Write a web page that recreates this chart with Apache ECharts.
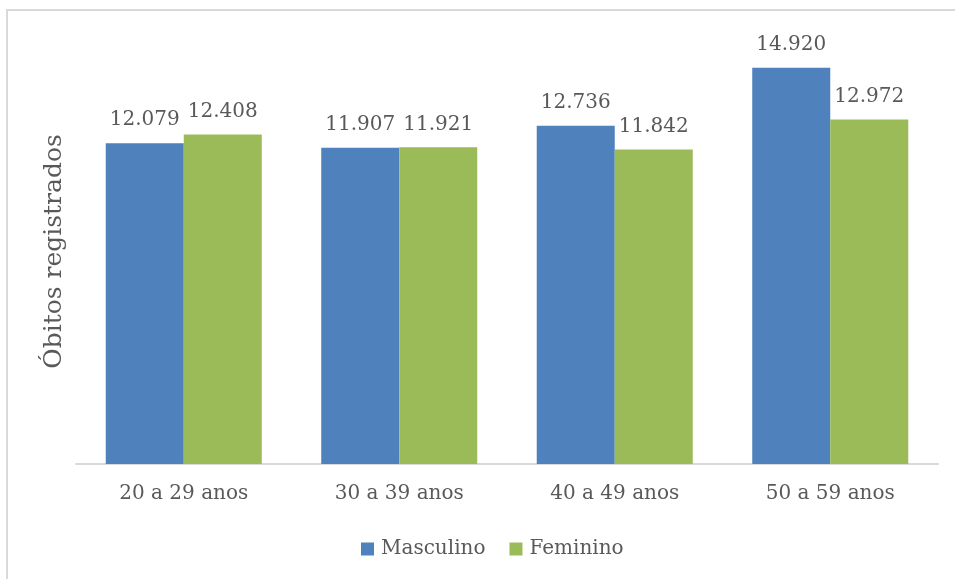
<!DOCTYPE html>
<html>
<head>
<meta charset="utf-8">
<script src="https://cdn.jsdelivr.net/npm/echarts@6/dist/echarts.min.js"></script>
<style>html,body{margin:0;padding:0;background:#fff}#c{width:955px;height:579px}</style>
</head>
<body>
<div id="c"></div>
<script>
var categories = ['20 a 29 anos', '30 a 39 anos', '40 a 49 anos', '50 a 59 anos'];
var masculino = [12079, 11907, 12736, 14920];
var feminino = [12408, 11921, 11842, 12972];
var seriesNames = ['Masculino', 'Feminino'];
var yTitle = 'Óbitos registrados';

var FONT = '"DejaVu Serif", serif';
var TXT = '#595959';
function fmt(v) { return String(v).replace(/\B(?=(\d{3})+(?!\d))/g, '.'); }

var chart = echarts.init(document.getElementById('c'));
var labelCfg = {
  show: true, position: 'top', distance: 13,
  color: TXT, fontFamily: FONT, fontSize: 20,
  formatter: function (p) { return fmt(p.value); }
};
chart.setOption({
  animation: false,
  graphic: [{
    type: 'rect', silent: true, z: -1,
    shape: { x: 7, y: 10, width: 1000, height: 700 },
    style: { fill: 'none', stroke: '#d9d9d9', lineWidth: 2 }
  }],
  grid: { left: 76, right: 17, top: 39, bottom: 115 },
  legend: {
    bottom: 15, left: 356,
    itemWidth: 13, itemHeight: 13, itemGap: 24,
    icon: 'rect',
    textStyle: { color: TXT, fontFamily: FONT, fontSize: 20, padding: [0, 0, 0, 2] },
    data: seriesNames
  },
  xAxis: {
    type: 'category', data: categories,
    axisLine: { lineStyle: { color: '#d9d9d9', width: 2 } },
    axisTick: { show: false },
    axisLabel: { color: TXT, fontFamily: FONT, fontSize: 20, margin: 20 }
  },
  yAxis: {
    type: 'value', min: 0, max: 16000,
    name: yTitle, nameLocation: 'middle', nameGap: 9,
    nameTextStyle: { color: TXT, fontFamily: FONT, fontSize: 25 },
    axisLine: { show: false }, axisTick: { show: false },
    axisLabel: { show: false }, splitLine: { show: false }
  },
  series: [
    { name: seriesNames[0], type: 'bar', data: masculino, barGap: '0%', barCategoryGap: '27.6%',
      itemStyle: { color: '#4F81BD' }, label: labelCfg },
    { name: seriesNames[1], type: 'bar', data: feminino, barGap: '0%', barCategoryGap: '27.6%',
      itemStyle: { color: '#9BBB59' }, label: labelCfg }
  ]
});
</script>
</body>
</html>
